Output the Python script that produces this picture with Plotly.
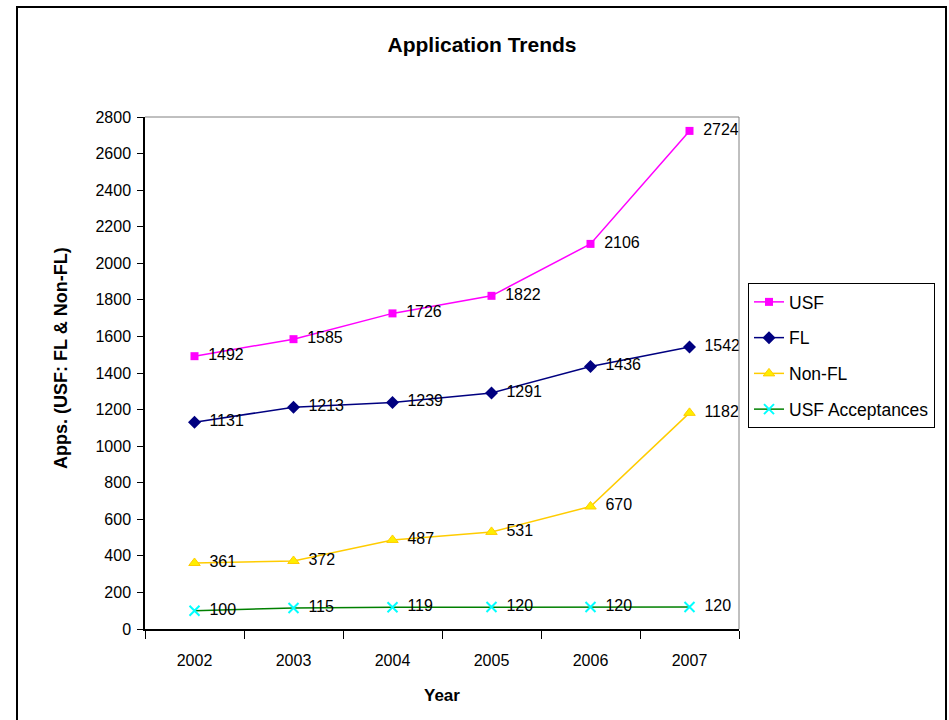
import plotly.graph_objects as go

years = ["2002", "2003", "2004", "2005", "2006", "2007"]
usf = [1492, 1585, 1726, 1822, 2106, 2724]
fl = [1131, 1213, 1239, 1291, 1436, 1542]
non_fl = [361, 372, 487, 531, 670, 1182]
usf_acc = [100, 115, 119, 120, 120, 120]
y_ticks = list(range(0, 2801, 200))

FONT = "Liberation Sans, Arial, sans-serif"

L, R, T, B = 145, 739, 117, 629
PW, PH = R - L, B - T

def px(x):
    return (x - L) / PW

def py(y):
    return 1 - (y - T) / PH

series = [
    ("USF", usf, "#FF00FF", "#FF00FF", "square", 8),
    ("FL", fl, "#000080", "#000080", "diamond", 10),
    ("Non-FL", non_fl, "#FFCC00", "#FFEE00", "triangle-up", 10),
    ("USF Acceptances", usf_acc, "#008000", "#00FFFF", "x-thin-open", 10),
]

fig = go.Figure()
for i, (name, vals, lc, mc, sym, sz) in enumerate(series):
    marker = dict(symbol=sym, size=sz, color=mc)
    if sym == "x-thin-open":
        marker["line"] = dict(color=mc, width=2)
    elif sym == "triangle-up":
        marker["line"] = dict(color="#FFCC00", width=1)
    fig.add_trace(go.Scatter(
        x=years, y=vals, name=name, mode="lines+markers+text",
        line=dict(color=lc, width=1.5), marker=marker,
        text=[" \u2009" + str(v) for v in vals], textposition="middle right",
        textfont=dict(family=FONT, size=16, color="black"),
        legendgroup=f"g{i}",
    ))

fig.update_layout(
    width=949, height=720,
    margin=dict(l=L, r=949 - R, t=T, b=720 - B),
    paper_bgcolor="white", plot_bgcolor="white",
    font=dict(family=FONT, size=16, color="black"),
    title=dict(text="<b>Application Trends</b>", x=482 / 949, xanchor="center",
               y=1 - 45 / 720, yanchor="middle", font=dict(size=21)),
    showlegend=True,
    legend=dict(x=px(748), y=py(283), xanchor="left", yanchor="top",
                bordercolor="black", borderwidth=1, bgcolor="white",
                font=dict(size=17.5), tracegroupgap=10),
    xaxis=dict(type="category", range=[-0.5, 5.5], showgrid=False,
               showline=True, linecolor="black", linewidth=1.5,
               ticks="outside", tickson="boundaries", ticklen=8, tickcolor="black",
               ticklabelstandoff=16, tickfont=dict(size=16)),
    yaxis=dict(range=[0, 2800], tickvals=y_ticks, showgrid=False, zeroline=False,
               showline=True, linecolor="black", linewidth=1.5,
               ticks="outside", ticklen=6, tickcolor="black",
               ticklabelstandoff=3, tickfont=dict(size=16)),
    annotations=[
        dict(text="<b>Year</b>", xref="paper", yref="paper",
             x=px(442), y=py(695), xanchor="center", yanchor="middle",
             showarrow=False, font=dict(size=17)),
        dict(text="<b>Apps. (USF: FL & Non-FL)</b>", xref="paper", yref="paper",
             x=px(61), y=py(358), xanchor="center", yanchor="middle",
             textangle=-90, showarrow=False, font=dict(size=18)),
    ],
    shapes=[
        dict(type="line", xref="paper", yref="paper", x0=0, x1=1, y0=1, y1=1,
             line=dict(color="#808080", width=1)),
        dict(type="line", xref="paper", yref="paper", x0=1, x1=1, y0=0, y1=1,
             line=dict(color="#808080", width=1)),
        dict(type="rect", xref="paper", yref="paper",
             x0=px(17), x1=px(946), y0=-0.3, y1=py(7),
             line=dict(color="black", width=2), layer="below"),
    ],
)

fig.write_html(
    "out.html",
    config={"displayModeBar": False},
    post_script="document.body.style.margin='0';document.body.style.overflow='hidden';",
)
